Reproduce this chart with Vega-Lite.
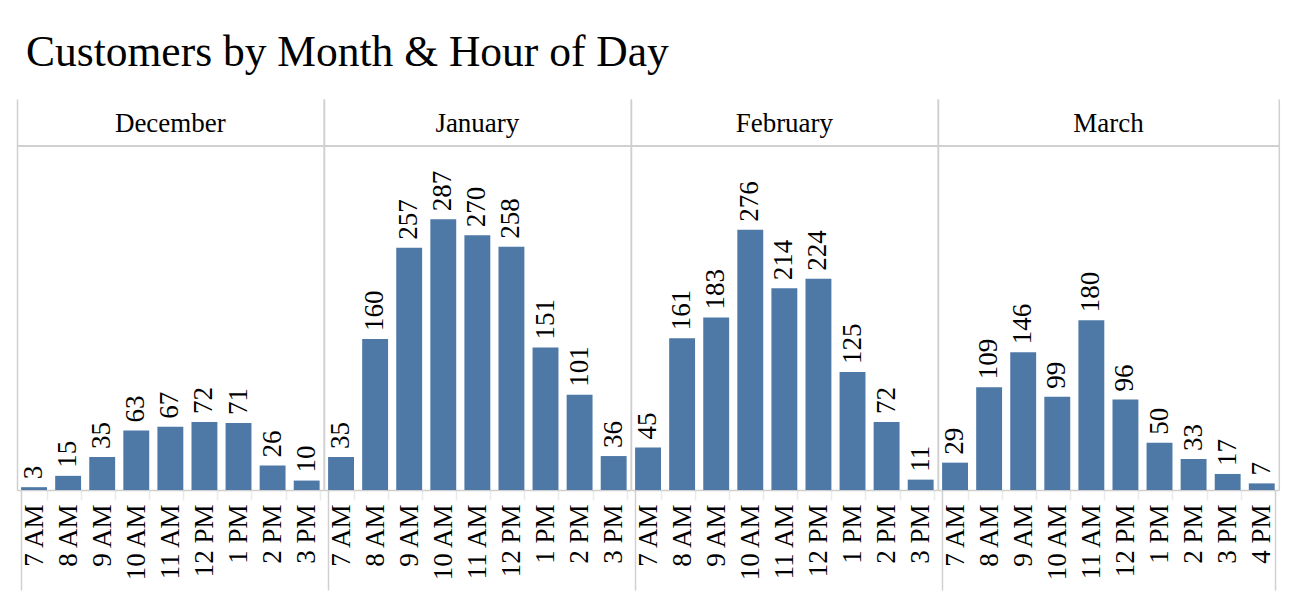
{
  "$schema": "https://vega.github.io/schema/vega-lite/v6.json",
  "background": "white",
  "padding": {"left": 3, "top": 30, "right": 10, "bottom": 0},
  "title": {
    "text": "Customers by Month & Hour of Day",
    "anchor": "start",
    "font": "Liberation Serif",
    "fontSize": 43.5,
    "fontWeight": "normal",
    "color": "black",
    "dx": 23,
    "offset": 24
  },
  "data": {
    "values": [
      {"month": "December", "hour": "7 AM", "count": 3},
      {"month": "December", "hour": "8 AM", "count": 15},
      {"month": "December", "hour": "9 AM", "count": 35},
      {"month": "December", "hour": "10 AM", "count": 63},
      {"month": "December", "hour": "11 AM", "count": 67},
      {"month": "December", "hour": "12 PM", "count": 72},
      {"month": "December", "hour": "1 PM", "count": 71},
      {"month": "December", "hour": "2 PM", "count": 26},
      {"month": "December", "hour": "3 PM", "count": 10},
      {"month": "January", "hour": "7 AM", "count": 35},
      {"month": "January", "hour": "8 AM", "count": 160},
      {"month": "January", "hour": "9 AM", "count": 257},
      {"month": "January", "hour": "10 AM", "count": 287},
      {"month": "January", "hour": "11 AM", "count": 270},
      {"month": "January", "hour": "12 PM", "count": 258},
      {"month": "January", "hour": "1 PM", "count": 151},
      {"month": "January", "hour": "2 PM", "count": 101},
      {"month": "January", "hour": "3 PM", "count": 36},
      {"month": "February", "hour": "7 AM", "count": 45},
      {"month": "February", "hour": "8 AM", "count": 161},
      {"month": "February", "hour": "9 AM", "count": 183},
      {"month": "February", "hour": "10 AM", "count": 276},
      {"month": "February", "hour": "11 AM", "count": 214},
      {"month": "February", "hour": "12 PM", "count": 224},
      {"month": "February", "hour": "1 PM", "count": 125},
      {"month": "February", "hour": "2 PM", "count": 72},
      {"month": "February", "hour": "3 PM", "count": 11},
      {"month": "March", "hour": "7 AM", "count": 29},
      {"month": "March", "hour": "8 AM", "count": 109},
      {"month": "March", "hour": "9 AM", "count": 146},
      {"month": "March", "hour": "10 AM", "count": 99},
      {"month": "March", "hour": "11 AM", "count": 180},
      {"month": "March", "hour": "12 PM", "count": 96},
      {"month": "March", "hour": "1 PM", "count": 50},
      {"month": "March", "hour": "2 PM", "count": 33},
      {"month": "March", "hour": "3 PM", "count": 17},
      {"month": "March", "hour": "4 PM", "count": 7}
    ]
  },
  "spacing": 0,
  "bounds": "flush",
  "resolve": {"scale": {"x": "independent"}, "axis": {"y": "independent", "x": "independent"}},
  "hconcat": [
    {
      "width": {"step": 34.08},
      "height": 391,
      "transform": [{"filter": "datum.month === 'December'"}],
      "resolve": {"axis": {"y": "independent"}},
      "layer": [
        {
          "mark": {"type": "bar", "color": "#4e79a7"},
          "encoding": {
            "x": {"field": "hour", "type": "ordinal", "sort": null, "scale": {"paddingInner": 0.24, "paddingOuter": 0.12}},
            "y": {"field": "count", "type": "quantitative", "scale": {"domain": [0, 414.6], "nice": false}, "axis": {"orient": "left"}}
          }
        },
        {
          "mark": {"type": "text", "angle": 270, "align": "left", "baseline": "middle", "dx": 8, "font": "Liberation Serif", "fontSize": 27, "color": "black"},
          "encoding": {
            "x": {"field": "hour", "type": "ordinal", "sort": null},
            "y": {"field": "count", "type": "quantitative", "axis": null},
            "text": {"field": "count", "type": "quantitative"}
          }
        },
        {
          "mark": {"type": "rule", "color": "#d0d0d0", "strokeWidth": 1.5},
          "encoding": {"y": {"datum": 364.4, "type": "quantitative", "axis": {"orient": "right"}}}
        },
        {
          "transform": [{"filter": "datum.hour === '7 AM'"}],
          "mark": {"type": "text", "align": "center", "baseline": "alphabetic", "font": "Liberation Serif", "fontSize": 27, "color": "black"},
          "encoding": {
            "y": {"datum": 379.2, "type": "quantitative", "axis": null},
            "text": {"field": "month", "type": "nominal"}
          }
        }
      ]
    },
    {
      "width": {"step": 34.08},
      "height": 391,
      "transform": [{"filter": "datum.month === 'January'"}],
      "resolve": {"axis": {"y": "independent"}},
      "layer": [
        {
          "mark": {"type": "bar", "color": "#4e79a7"},
          "encoding": {
            "x": {"field": "hour", "type": "ordinal", "sort": null, "scale": {"paddingInner": 0.24, "paddingOuter": 0.12}},
            "y": {"field": "count", "type": "quantitative", "scale": {"domain": [0, 414.6], "nice": false}, "axis": {"orient": "left"}}
          }
        },
        {
          "mark": {"type": "text", "angle": 270, "align": "left", "baseline": "middle", "dx": 8, "font": "Liberation Serif", "fontSize": 27, "color": "black"},
          "encoding": {
            "x": {"field": "hour", "type": "ordinal", "sort": null},
            "y": {"field": "count", "type": "quantitative", "axis": null},
            "text": {"field": "count", "type": "quantitative"}
          }
        },
        {
          "mark": {"type": "rule", "color": "#d0d0d0", "strokeWidth": 1.5},
          "encoding": {"y": {"datum": 364.4, "type": "quantitative", "axis": {"orient": "right"}}}
        },
        {
          "transform": [{"filter": "datum.hour === '7 AM'"}],
          "mark": {"type": "text", "align": "center", "baseline": "alphabetic", "font": "Liberation Serif", "fontSize": 27, "color": "black"},
          "encoding": {
            "y": {"datum": 379.2, "type": "quantitative", "axis": null},
            "text": {"field": "month", "type": "nominal"}
          }
        }
      ]
    },
    {
      "width": {"step": 34.08},
      "height": 391,
      "transform": [{"filter": "datum.month === 'February'"}],
      "resolve": {"axis": {"y": "independent"}},
      "layer": [
        {
          "mark": {"type": "bar", "color": "#4e79a7"},
          "encoding": {
            "x": {"field": "hour", "type": "ordinal", "sort": null, "scale": {"paddingInner": 0.24, "paddingOuter": 0.12}},
            "y": {"field": "count", "type": "quantitative", "scale": {"domain": [0, 414.6], "nice": false}, "axis": {"orient": "left"}}
          }
        },
        {
          "mark": {"type": "text", "angle": 270, "align": "left", "baseline": "middle", "dx": 8, "font": "Liberation Serif", "fontSize": 27, "color": "black"},
          "encoding": {
            "x": {"field": "hour", "type": "ordinal", "sort": null},
            "y": {"field": "count", "type": "quantitative", "axis": null},
            "text": {"field": "count", "type": "quantitative"}
          }
        },
        {
          "mark": {"type": "rule", "color": "#d0d0d0", "strokeWidth": 1.5},
          "encoding": {"y": {"datum": 364.4, "type": "quantitative", "axis": {"orient": "right"}}}
        },
        {
          "transform": [{"filter": "datum.hour === '7 AM'"}],
          "mark": {"type": "text", "align": "center", "baseline": "alphabetic", "font": "Liberation Serif", "fontSize": 27, "color": "black"},
          "encoding": {
            "y": {"datum": 379.2, "type": "quantitative", "axis": null},
            "text": {"field": "month", "type": "nominal"}
          }
        }
      ]
    },
    {
      "width": {"step": 34.08},
      "height": 391,
      "transform": [{"filter": "datum.month === 'March'"}],
      "resolve": {"axis": {"y": "independent"}},
      "layer": [
        {
          "mark": {"type": "bar", "color": "#4e79a7"},
          "encoding": {
            "x": {"field": "hour", "type": "ordinal", "sort": null, "scale": {"paddingInner": 0.24, "paddingOuter": 0.12}},
            "y": {"field": "count", "type": "quantitative", "scale": {"domain": [0, 414.6], "nice": false}, "axis": {"orient": "left"}}
          }
        },
        {
          "mark": {"type": "text", "angle": 270, "align": "left", "baseline": "middle", "dx": 8, "font": "Liberation Serif", "fontSize": 27, "color": "black"},
          "encoding": {
            "x": {"field": "hour", "type": "ordinal", "sort": null},
            "y": {"field": "count", "type": "quantitative", "axis": null},
            "text": {"field": "count", "type": "quantitative"}
          }
        },
        {
          "mark": {"type": "rule", "color": "#d0d0d0", "strokeWidth": 1.5},
          "encoding": {"y": {"datum": 364.4, "type": "quantitative", "axis": {"orient": "right"}}}
        },
        {
          "transform": [{"filter": "datum.hour === '7 AM'"}],
          "mark": {"type": "text", "align": "center", "baseline": "alphabetic", "font": "Liberation Serif", "fontSize": 27, "color": "black"},
          "encoding": {
            "y": {"datum": 379.2, "type": "quantitative", "axis": null},
            "text": {"field": "month", "type": "nominal"}
          }
        }
      ]
    }
  ],
  "config": {
    "view": {"stroke": null},
    "axisY": {
      "title": null,
      "labels": false,
      "ticks": false,
      "grid": false,
      "domain": true,
      "domainColor": "#d0d0d0",
      "domainWidth": 1.5,
      "minExtent": 0,
      "maxExtent": 0
    },
    "axisX": {
      "title": null,
      "labelAngle": 270,
      "labelFont": "Liberation Serif",
      "labelFontSize": 27,
      "labelColor": "black",
      "labelOverlap": false,
      "labelPadding": -86,
      "domain": true,
      "domainColor": "#cfcfcf",
      "domainWidth": 1.5,
      "ticks": true,
      "tickBand": "extent",
      "tickSize": 100,
      "tickWidth": 1.5,
      "tickColor": {"condition": {"test": "datum.extra || datum.value === '4 PM'", "value": "#d0d0d0"}, "value": "#ebebeb"},
      "tickDash": {"condition": {"test": "datum.extra || datum.value === '4 PM'", "value": [1000, 0]}, "value": [10, 1000]},
      "grid": false
    }
  }
}
